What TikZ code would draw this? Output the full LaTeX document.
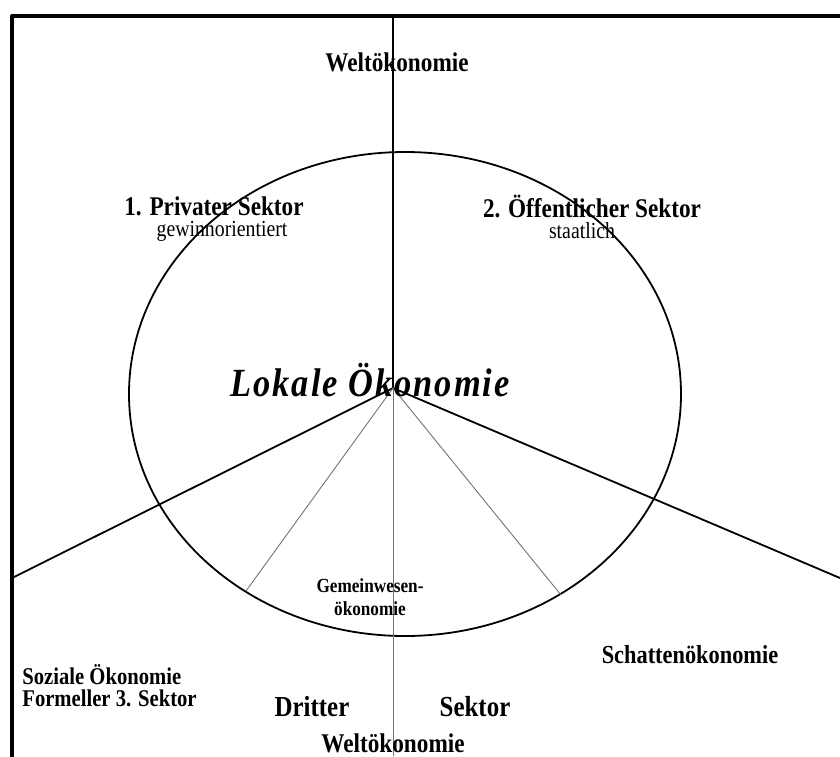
\documentclass[tikz,border=0pt]{standalone}
\usepackage{fontspec}
\setmainfont[FakeStretch=0.86]{Liberation Serif}
\usetikzlibrary{calc}

\begin{document}
\begin{tikzpicture}[line join=round, line cap=round, x=0.5pt, y=-0.5pt]
\tikzset{every node/.style={inner sep=0pt, font=\bfseries},
  schwarz/.style={line width=0.9pt, black},
  grau/.style={line width=0.45pt, black!55},
  titel/.style={font=\bfseries\fontsize{13.5}{15}\selectfont},
  klein/.style={font=\normalfont\fontsize{11.5}{12}\selectfont}}
\useasboundingbox (0,0) rectangle (840,756);
\fill[white] (0,0) rectangle (840,756);
\draw[line width=2pt] (12,756)--(12,16)--(840,16);
% Mittelpunkt und Endpunkte
\coordinate (M) at (393,388);
\coordinate (oben) at (393,16);
\coordinate (unten) at (393,756);
\coordinate (links) at (14,577);
\coordinate (rechts) at (840,578);
\coordinate (gl) at (246,591);
\coordinate (gr) at (561,595);
\draw[schwarz] (405,394) ellipse [x radius=138pt, y radius=121pt];
\draw[schwarz] (oben)--(M);
\draw[grau] (M)--(unten);
\draw[schwarz] (M)--(links);
\draw[schwarz] (M)--(rechts);
\draw[grau] (M)--(gl);
\draw[grau] (M)--(gr);
% Texte
\node[titel] (wtop) at (397,62) {Weltökonomie};
\node[titel] (priv) at (214,206) {1. Privater Sektor};
\node[klein] (gew) at (222,231) {gewinnorientiert};
\node[titel] (oeff) at (592,206) {2. Öffentlicher Sektor};
\node[klein] (staat) at (582,231) {staatlich};
\node[font=\bfseries\itshape\fontsize{20}{22}\selectfont\addfontfeature{LetterSpace=5}] (lokal) at (370,380) {Lokale Ökonomie};
\node[font=\bfseries\fontsize{10}{11.5}\selectfont, align=center] (gem) at (370,597) {Gemeinwesen-\\ökonomie};
\node[font=\bfseries\fontsize{12}{11}\selectfont, align=left, anchor=west] (soz) at (22,686) {Soziale Ökonomie\\Formeller 3. Sektor};
\node[font=\bfseries\fontsize{13}{14}\selectfont] (schatten) at (690,655) {Schattenökonomie};
\node[font=\bfseries\fontsize{14.5}{16}\selectfont] (dritter) at (312,707) {Dritter};
\node[font=\bfseries\fontsize{14.5}{16}\selectfont] (sektor) at (475,707) {Sektor};
\node[titel] (wbot) at (393,743) {Weltökonomie};
\end{tikzpicture}
\end{document}
